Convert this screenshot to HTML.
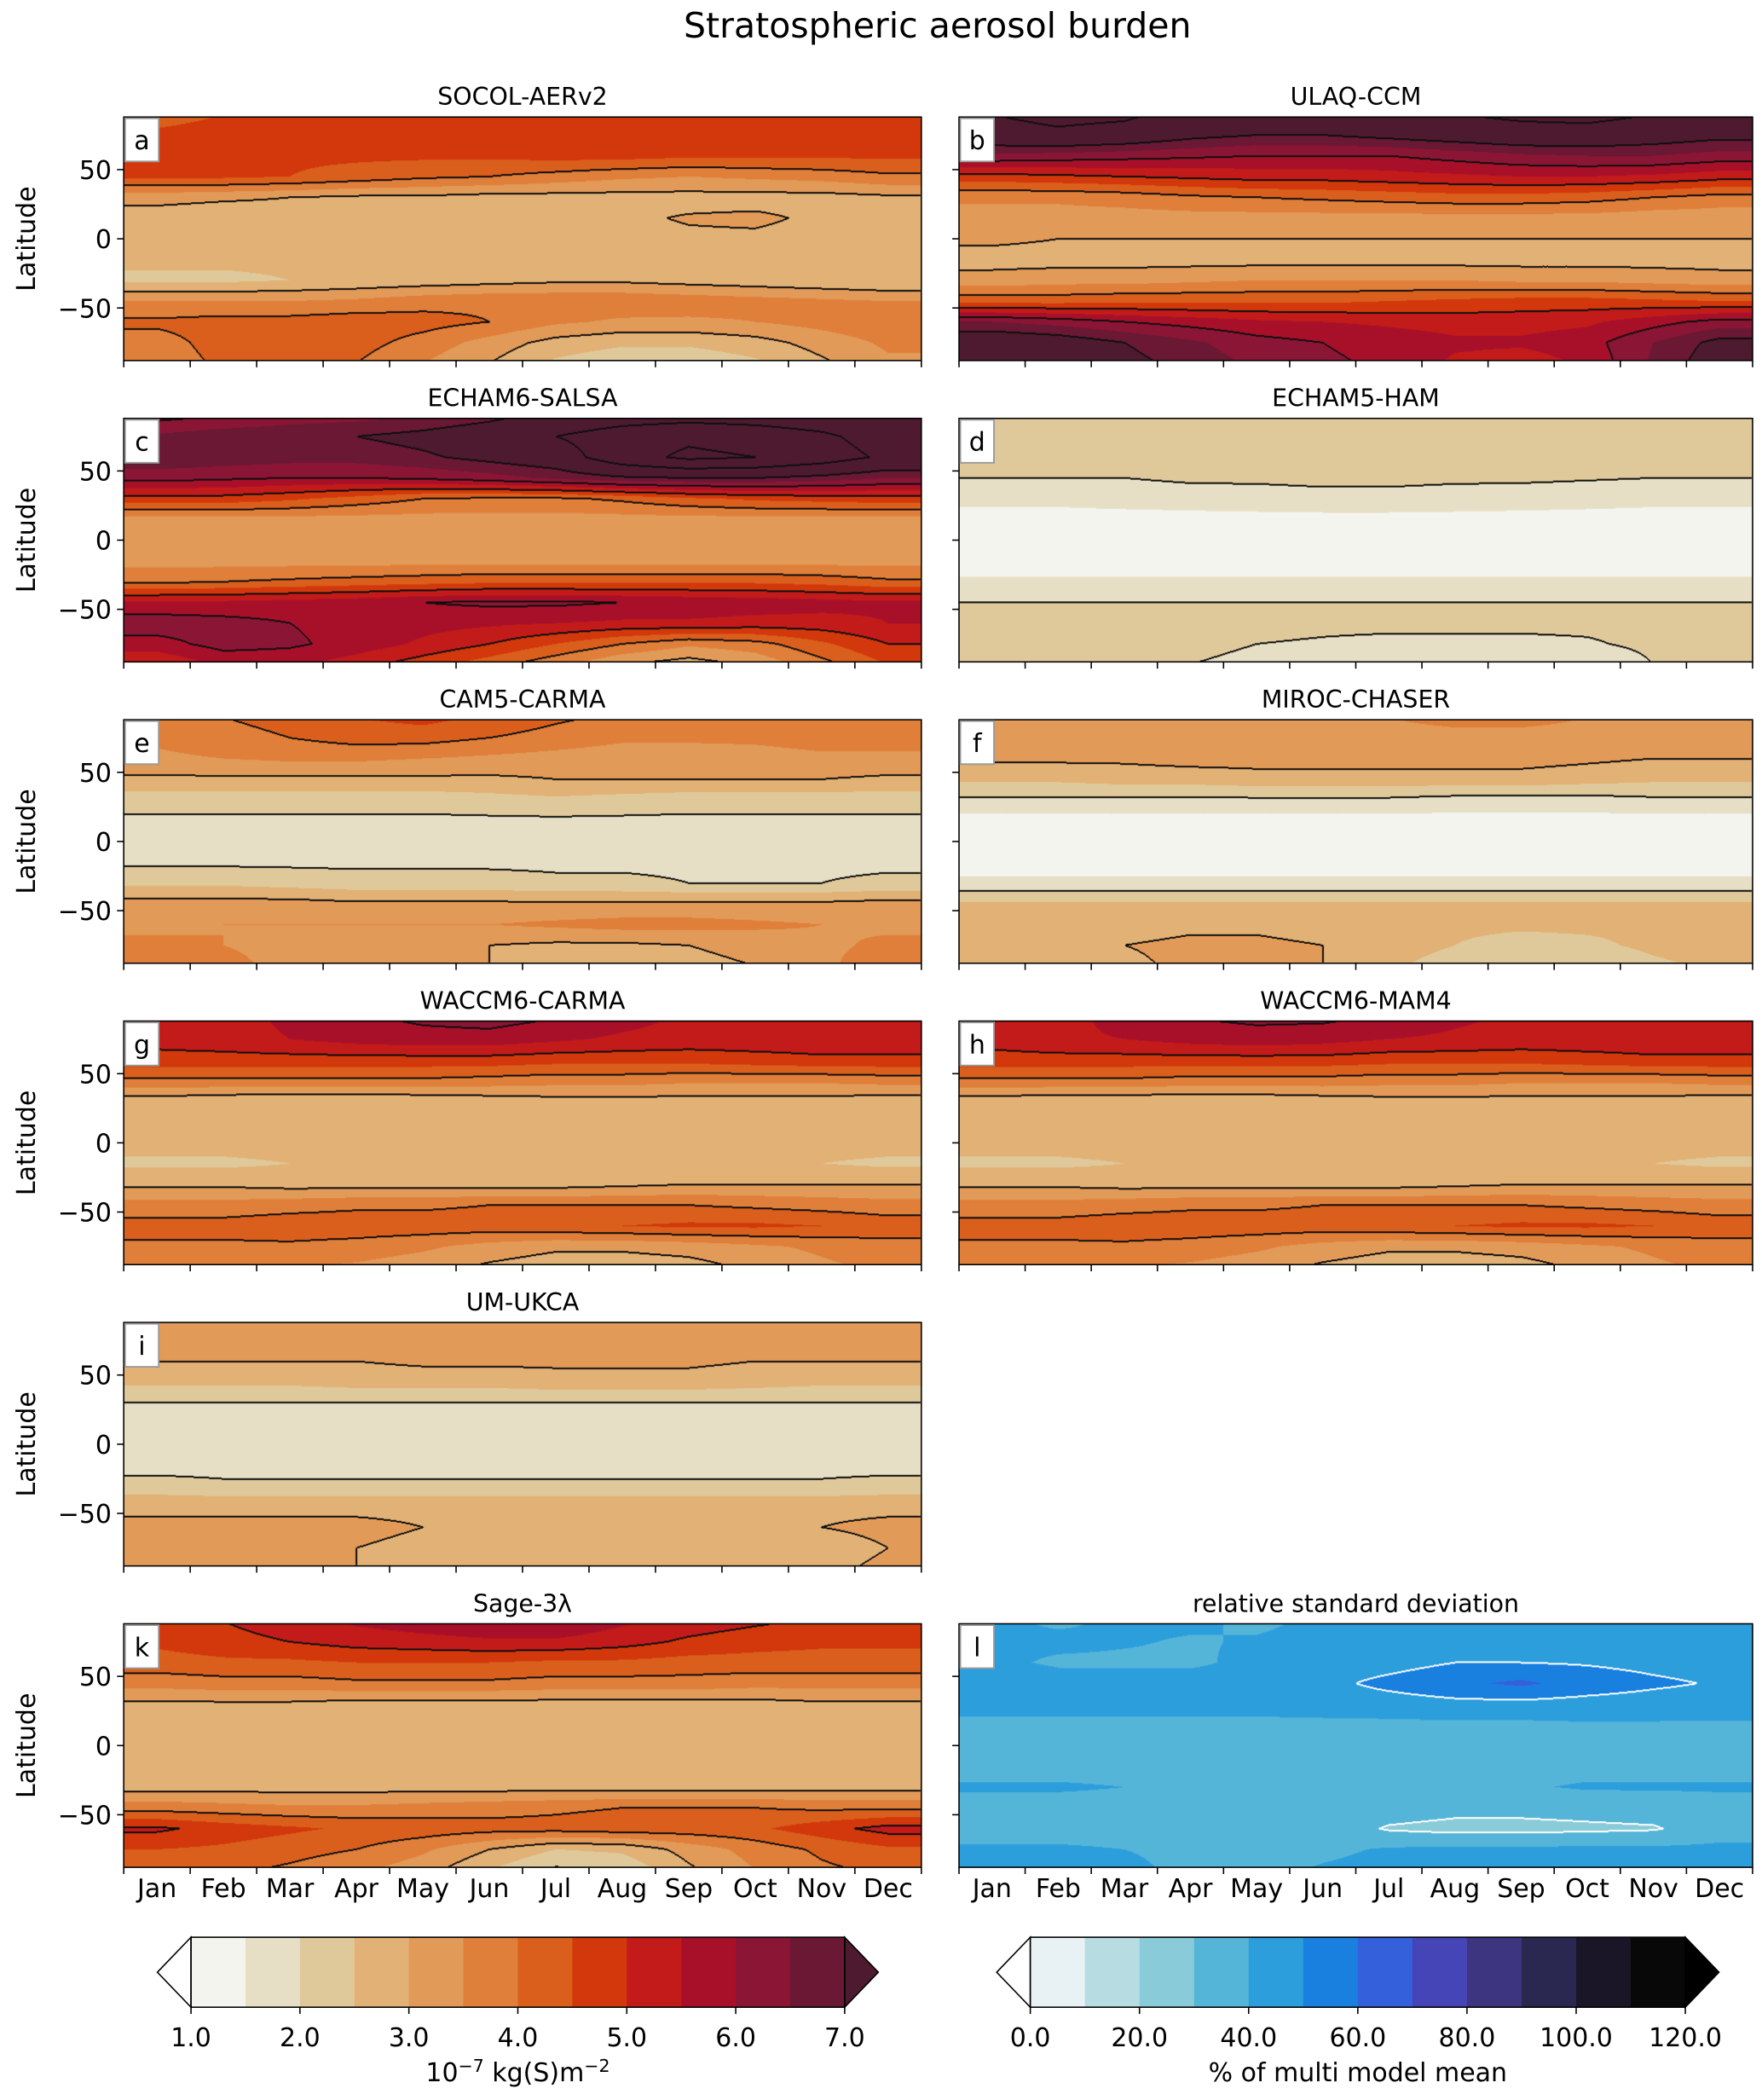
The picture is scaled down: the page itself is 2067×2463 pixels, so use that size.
<!DOCTYPE html>
<html><head><meta charset="utf-8">
<style>
html,body{margin:0;padding:0;background:#fff;width:2067px;height:2463px;overflow:hidden}
#wrap{position:absolute;left:0;top:0;width:1310px;height:1561px;transform-origin:0 0;font-family:"DejaVu Sans","Liberation Sans",sans-serif}
canvas{position:absolute;image-rendering:auto}
svg{position:absolute;left:0;top:0}
</style></head>
<body>
<div id="wrap">
<svg id="ov" width="1310" height="1561" viewBox="0 0 1310 1561">
<text x="697" y="28" font-size="26" text-anchor="middle">Stratospheric aerosol burden</text>
</svg>
</div>
<script>
const S = 2067/1310;
document.getElementById('wrap').style.transform = 'scale(' + S + ')';

// ---- data: rows are latitudes (90 -> -90 every 15 deg), columns are months Jan..Dec ----
const months = ['Jan','Feb','Mar','Apr','May','Jun','Jul','Aug','Sep','Oct','Nov','Dec'];
const lats = [90,75,60,45,30,15,0,-15,-30,-45,-60,-75,-90];
const latTicks = [50,0,-50];
const burdenTicks = ['1.0','2.0','3.0','4.0','5.0','6.0','7.0'];
const rsdTicks = ['0.0','20.0','40.0','60.0','80.0','100.0','120.0'];

const socol = [
[4.3,4.5,4.7,4.7,4.7,4.7,4.8,4.9,4.8,4.7,4.7,4.7],
[4.6,4.7,4.7,4.8,4.8,4.8,4.8,4.8,4.7,4.7,4.6,4.6],
[4.6,4.6,4.6,4.6,4.6,4.6,4.7,4.7,4.6,4.6,4.6,4.6],
[4.6,4.6,4.5,4.3,4.1,4.0,3.8,3.6,3.5,3.6,3.7,3.9],
[3.2,3.1,3.0,2.9,2.9,2.8,2.8,2.8,2.8,2.8,2.8,2.9],
[2.7,2.6,2.7,2.8,2.8,2.8,2.8,2.9,3.05,3.1,2.9,2.8],
[2.7,2.7,2.7,2.7,2.8,2.8,2.8,2.8,2.9,2.9,2.8,2.7],
[2.6,2.6,2.6,2.7,2.7,2.8,2.7,2.7,2.7,2.7,2.6,2.6],
[2.4,2.4,2.5,2.6,2.7,2.8,2.9,2.9,2.8,2.7,2.6,2.5],
[3.5,3.5,3.5,3.6,3.8,3.9,3.9,3.9,3.8,3.7,3.6,3.5],
[4.1,4.2,4.2,4.3,4.2,4.0,3.6,3.4,3.4,3.5,3.7,3.9],
[3.8,4.2,4.2,4.2,3.8,3.3,2.8,2.6,2.6,2.8,3.2,3.6],
[3.7,4.1,4.1,4.0,3.5,3.0,2.4,2.1,2.1,2.4,2.9,3.4]];
const ulaq = [
[8,8.3,8.2,7.6,7.5,7.6,7.8,8,8.2,8.3,8,7.8],
[7.6,7.8,7.6,7.2,7,7,7.2,7.4,7.6,7.6,7.4,7.2],
[6.4,6.3,6.2,6.1,6.0,6.0,6.0,6.2,6.4,6.5,6.5,6.3],
[4.8,4.9,5,5.1,5.2,5.2,5.3,5.4,5.5,5.5,5.4,5.2],
[3.6,3.6,3.7,3.9,4.0,4.1,4.2,4.3,4.3,4.2,4.0,3.8],
[3.3,3.3,3.3,3.3,3.3,3.3,3.3,3.3,3.3,3.3,3.2,3.2],
[3.1,3.0,3.0,3.0,3.0,3.0,3.0,3.0,3.0,3.0,3.0,3.0],
[2.8,2.8,2.8,2.8,2.8,2.8,2.8,2.8,2.8,2.8,2.8,2.8],
[3.2,3.3,3.3,3.4,3.5,3.5,3.5,3.5,3.4,3.4,3.3,3.2],
[4.3,4.3,4.4,4.4,4.4,4.4,4.5,4.6,4.7,4.7,4.6,4.5],
[6.5,6.3,6,5.8,5.6,5.5,5.4,5.3,5.3,5.4,5.8,6.2],
[7.6,7.4,7,6.6,6.2,6,5.8,5.6,5.6,5.8,6.5,7.2],
[8,7.8,7.2,6.8,6.4,6.1,5.9,5.4,5.2,5.6,6.6,7.4]];
const salsa = [
[5.8,6,6.2,6.3,6.5,6.8,7.2,7.5,7.6,7.5,7.3,7],
[6.6,6.8,6.9,7,7.2,7.5,8,8.5,8.8,8.6,8.2,7.5],
[6.9,6.8,6.7,6.7,6.9,7.2,7.5,8.6,9.2,9,8.5,7.8],
[6.2,6.1,6.0,6.0,6.1,6.3,6.6,6.9,7,7,6.8,6.5],
[4.8,4.8,4.6,4.3,4.0,3.9,3.9,4.1,4.4,4.6,4.7,4.8],
[3.3,3.3,3.3,3.3,3.3,3.3,3.3,3.3,3.3,3.3,3.3,3.3],
[3.2,3.2,3.2,3.2,3.2,3.2,3.2,3.2,3.2,3.2,3.2,3.2],
[3.3,3.3,3.3,3.3,3.3,3.3,3.3,3.3,3.3,3.3,3.3,3.3],
[3.9,4,4.1,4.2,4.3,4.4,4.4,4.4,4.4,4.4,4.3,4.1],
[5.6,5.6,5.7,5.8,6,6.1,6.1,6.0,5.9,5.8,5.7,5.6],
[6.3,6.2,6.0,5.8,5.7,5.6,5.5,5.4,5.4,5.3,5.3,5.5],
[5.8,6.2,6.1,5.8,5.4,5.0,4.5,4.0,3.6,3.8,4.4,5.0],
[5.0,5.6,5.6,5.2,4.7,4.2,3.6,3.0,2.7,3.1,3.8,4.5]];
const ham = [
[2.3,2.3,2.3,2.3,2.3,2.4,2.4,2.4,2.3,2.3,2.3,2.3],
[2.3,2.3,2.3,2.3,2.3,2.3,2.3,2.3,2.3,2.3,2.3,2.3],
[2.2,2.2,2.2,2.2,2.3,2.3,2.3,2.3,2.3,2.2,2.2,2.2],
[2.0,2.0,2.0,2.1,2.1,2.15,2.15,2.1,2.1,2.05,2.0,2.0],
[1.6,1.6,1.65,1.7,1.75,1.8,1.8,1.75,1.7,1.65,1.6,1.6],
[1.35,1.35,1.35,1.35,1.35,1.35,1.35,1.35,1.35,1.35,1.35,1.35],
[1.3,1.3,1.3,1.3,1.3,1.3,1.3,1.3,1.3,1.3,1.3,1.3],
[1.35,1.35,1.35,1.35,1.35,1.35,1.35,1.35,1.35,1.35,1.35,1.35],
[1.55,1.55,1.55,1.55,1.55,1.55,1.55,1.55,1.55,1.55,1.55,1.55],
[2.0,2.0,2.0,2.0,2.0,2.0,2.0,2.0,2.0,2.0,2.0,2.0],
[2.2,2.2,2.2,2.2,2.15,2.1,2.1,2.1,2.1,2.1,2.15,2.2],
[2.2,2.2,2.2,2.1,2.0,1.95,1.9,1.9,1.9,1.95,2.1,2.2],
[2.2,2.2,2.1,2.0,1.9,1.8,1.6,1.5,1.5,1.6,2.0,2.2]];
const carma = [
[3.8,4.0,4.2,4.5,4.7,4.4,4.1,3.9,3.8,3.9,4.0,3.9],
[3.6,3.8,4.0,4.2,4.2,4.0,3.8,3.6,3.6,3.6,3.7,3.7],
[3.4,3.5,3.6,3.6,3.5,3.4,3.3,3.2,3.2,3.3,3.4,3.4],
[2.9,2.9,2.9,2.9,2.9,2.9,3.0,3.0,3.0,3.0,3.0,2.9],
[2.2,2.2,2.2,2.2,2.2,2.3,2.4,2.3,2.2,2.2,2.2,2.2],
[1.9,1.9,1.9,1.9,1.9,1.9,1.9,1.9,1.9,1.9,1.9,1.9],
[1.85,1.85,1.85,1.85,1.85,1.85,1.85,1.85,1.85,1.85,1.85,1.85],
[1.9,1.9,1.9,1.9,1.9,1.9,1.9,1.9,1.9,1.9,1.9,1.9],
[2.4,2.4,2.3,2.2,2.2,2.2,2.1,2.1,2.0,2.0,2.0,2.1],
[3.2,3.2,3.2,3.1,3.1,3.1,3.1,3.1,3.1,3.1,3.1,3.2],
[3.4,3.5,3.5,3.5,3.5,3.5,3.6,3.7,3.7,3.6,3.5,3.4],
[3.6,3.5,3.4,3.3,3.2,3.0,2.9,2.9,3.0,3.2,3.4,3.6],
[3.8,3.6,3.4,3.3,3.2,3.0,2.7,2.6,2.8,3.0,3.4,3.8]];
const miroc = [
[3.2,3.2,3.3,3.4,3.4,3.4,3.5,3.6,3.6,3.5,3.4,3.3],
[3.3,3.3,3.3,3.3,3.3,3.3,3.4,3.4,3.4,3.4,3.3,3.3],
[3.1,3.1,3.1,3.2,3.2,3.2,3.2,3.2,3.2,3.1,3.0,3.0],
[2.6,2.6,2.7,2.7,2.8,2.8,2.8,2.8,2.8,2.7,2.6,2.6],
[1.9,1.9,1.9,1.9,1.9,1.9,1.9,1.8,1.8,1.8,1.9,1.9],
[1.3,1.3,1.3,1.3,1.3,1.3,1.3,1.3,1.3,1.3,1.3,1.3],
[1.2,1.2,1.2,1.2,1.2,1.2,1.2,1.2,1.2,1.2,1.2,1.2],
[1.3,1.3,1.3,1.3,1.3,1.3,1.3,1.3,1.3,1.3,1.3,1.3],
[1.6,1.6,1.6,1.6,1.6,1.6,1.6,1.6,1.6,1.6,1.6,1.6],
[2.6,2.6,2.6,2.6,2.6,2.6,2.6,2.6,2.6,2.6,2.6,2.6],
[2.7,2.7,2.8,2.9,2.9,2.8,2.7,2.6,2.6,2.6,2.6,2.7],
[2.7,2.8,3.0,3.1,3.1,3.0,2.8,2.5,2.3,2.4,2.6,2.7],
[2.6,2.7,2.9,3.1,3.2,3.0,2.6,2.2,2.0,2.1,2.4,2.6]];
const waccmCarma = [
[5.0,5.3,5.6,5.9,6.1,6.2,6.0,5.7,5.4,5.3,5.3,5.2],
[5.2,5.3,5.5,5.7,5.8,5.8,5.6,5.4,5.3,5.3,5.3,5.3],
[4.8,4.8,4.8,4.8,4.8,4.8,4.7,4.7,4.7,4.8,4.9,4.9],
[3.9,3.9,3.9,3.9,3.9,3.8,3.7,3.7,3.6,3.6,3.6,3.7],
[2.7,2.6,2.5,2.5,2.6,2.7,2.8,2.8,2.8,2.8,2.8,2.7],
[2.6,2.6,2.6,2.6,2.6,2.6,2.6,2.7,2.7,2.7,2.6,2.6],
[2.7,2.7,2.7,2.7,2.7,2.7,2.7,2.7,2.7,2.7,2.7,2.7],
[2.4,2.4,2.5,2.5,2.6,2.6,2.6,2.6,2.6,2.6,2.5,2.4],
[2.9,2.9,2.8,2.8,2.8,2.8,2.8,2.9,3.0,3.0,3.0,3.0],
[3.7,3.7,3.8,3.9,3.9,4.0,4.0,4.0,4.0,3.9,3.8,3.7],
[4.2,4.2,4.3,4.3,4.3,4.3,4.4,4.5,4.6,4.6,4.5,4.3],
[3.9,3.9,3.9,3.8,3.6,3.3,3.1,3.1,3.2,3.4,3.6,3.8],
[3.6,3.6,3.5,3.4,3.2,2.9,2.7,2.7,2.8,3.1,3.4,3.6]];
const waccmMam = [
[5.0,5.3,5.7,6.0,6.1,6.1,5.9,5.6,5.4,5.3,5.3,5.2],
[5.2,5.4,5.5,5.7,5.8,5.7,5.5,5.4,5.3,5.3,5.3,5.3],
[4.8,4.8,4.8,4.8,4.8,4.8,4.7,4.7,4.7,4.8,4.9,4.9],
[3.9,3.9,3.9,3.8,3.8,3.8,3.7,3.7,3.6,3.6,3.6,3.7],
[2.7,2.6,2.6,2.6,2.6,2.7,2.8,2.8,2.8,2.8,2.8,2.7],
[2.6,2.6,2.6,2.6,2.6,2.6,2.6,2.7,2.7,2.7,2.6,2.6],
[2.7,2.7,2.7,2.7,2.7,2.7,2.7,2.7,2.7,2.7,2.7,2.7],
[2.4,2.4,2.5,2.5,2.6,2.6,2.6,2.6,2.6,2.6,2.5,2.4],
[2.9,2.9,2.8,2.8,2.8,2.8,2.8,2.9,3.0,3.0,3.0,3.0],
[3.7,3.7,3.8,3.9,3.9,4.0,4.0,4.0,4.0,3.9,3.8,3.7],
[4.2,4.2,4.3,4.3,4.3,4.3,4.4,4.5,4.6,4.6,4.5,4.3],
[3.9,3.9,3.9,3.8,3.6,3.3,3.1,3.1,3.2,3.4,3.6,3.8],
[3.6,3.6,3.5,3.4,3.2,2.9,2.7,2.7,2.8,3.1,3.4,3.6]];
const ukca = [
[3.2,3.2,3.3,3.4,3.5,3.5,3.5,3.4,3.4,3.3,3.3,3.3],
[3.2,3.2,3.2,3.3,3.3,3.3,3.3,3.3,3.3,3.2,3.2,3.2],
[3.0,3.0,3.0,3.0,3.1,3.1,3.1,3.1,3.1,3.0,3.0,3.0],
[2.6,2.6,2.6,2.7,2.7,2.7,2.8,2.8,2.8,2.7,2.6,2.6],
[2.0,2.0,2.0,2.0,2.0,2.0,2.0,2.0,2.0,2.0,2.0,2.0],
[1.8,1.8,1.8,1.8,1.8,1.8,1.8,1.8,1.8,1.8,1.8,1.8],
[1.8,1.8,1.8,1.8,1.8,1.8,1.8,1.8,1.8,1.8,1.8,1.8],
[1.8,1.8,1.8,1.8,1.8,1.8,1.8,1.8,1.8,1.8,1.8,1.8],
[2.2,2.1,2.1,2.1,2.1,2.1,2.1,2.1,2.1,2.1,2.1,2.2],
[2.9,2.9,2.9,2.9,2.9,2.9,2.9,2.9,2.9,2.9,2.9,2.9],
[3.1,3.1,3.1,3.1,3.0,2.9,2.9,2.9,2.9,2.9,3.0,3.1],
[3.0,3.0,3.0,3.0,2.9,2.7,2.6,2.6,2.6,2.6,2.8,3.0],
[3.0,3.0,3.0,3.0,2.9,2.7,2.6,2.6,2.6,2.7,2.9,3.1]];
const sage = [
[4.8,5.0,5.3,5.6,5.8,6.0,6.0,5.6,5.3,5.1,4.9,4.8],
[4.6,4.8,5.0,5.2,5.3,5.4,5.4,5.2,4.9,4.7,4.6,4.6],
[4.3,4.4,4.4,4.5,4.5,4.5,4.4,4.4,4.3,4.3,4.3,4.3],
[3.7,3.8,3.8,3.9,3.9,3.9,3.8,3.8,3.8,3.7,3.7,3.7],
[2.9,2.9,2.9,2.8,2.8,2.8,2.8,2.8,2.8,2.8,2.9,2.9],
[2.6,2.6,2.6,2.6,2.6,2.6,2.6,2.6,2.6,2.6,2.6,2.6],
[2.5,2.5,2.6,2.5,2.5,2.6,2.6,2.5,2.6,2.6,2.5,2.5],
[2.5,2.5,2.5,2.6,2.6,2.6,2.6,2.6,2.6,2.6,2.6,2.6],
[2.8,2.8,2.8,2.8,2.8,2.8,2.8,2.8,2.8,2.8,2.8,2.8],
[3.8,3.7,3.6,3.6,3.7,3.8,3.9,4.0,4.0,4.0,3.9,3.9],
[5.1,4.8,4.6,4.4,4.3,4.2,4.2,4.3,4.3,4.4,4.8,5.2],
[4.5,4.4,4.2,4.0,3.6,3.0,2.5,2.6,3.2,3.7,4.1,4.4],
[4.2,4.1,3.9,3.6,3.2,2.5,1.9,2.1,2.9,3.5,3.9,4.1]];
const rsd = [
[42,38,42,42,38,42,42,42,42,42,42,42],
[43,43,41,39,41,43,43,43,43,43,43,43],
[43,38,38,38,43,44,46,50,50,49,47,45],
[50,46,45,45,45,47,53,58,62,56,52,49],
[43,43,43,43,43,44,45,47,47,46,45,44],
[38,38,38,38,38,38,38,38,38,39,39,39],
[37,37,37,37,37,37,37,37,37,37,37,37],
[37,37,37,37,37,37,37,37,37,37,37,37],
[41,41,40,40,40,40,40,40,39,41,41,41],
[37,37,37,37,37,37,35,33,33,34,35,37],
[37,37,37,37,37,36,29,27,27,28,29,36],
[41,41,40,38,37,38,41,42,42,42,42,42],
[43,43,42,38,37,41,43,43,43,43,43,43]];

// ---- styles ----
const orangeCols = ['#f4f4ee','#e6dfc6','#dfc99a','#e2b175','#e29a58','#df7f3a','#da5f1c','#d2380b','#c21b1a','#a8102a','#8b1534','#6a1834'];
const orangeUnder = '#ffffff', orangeOver = '#4e1a2f';
const blueCols = ['#e8f2f4','#b7dde3','#89cbd8','#55b5d8','#2d9edc','#1a80e0','#3560dc','#4645b8','#3d3580','#2a2850','#1a1628','#080808'];
const blueUnder = '#ffffff', blueOver = '#000000';

const SVGNS = 'http://www.w3.org/2000/svg';
const ov = document.getElementById('ov');
const wrap = document.getElementById('wrap');
function mk(tag, attrs, parent){ const e=document.createElementNS(SVGNS,tag); for(const k in attrs) e.setAttribute(k,attrs[k]); (parent||ov).appendChild(e); return e; }

const LAT_MAX = 88;
function sample(d, m, lat){
  m = Math.max(0, Math.min(11, m));
  let r = (90 - lat)/15; r = Math.max(0, Math.min(12, r));
  const m0=Math.floor(m), m1=Math.min(11,m0+1), fm=m-m0;
  const r0=Math.floor(r), r1=Math.min(12,r0+1), fr=r-r0;
  const a=d[r0][m0]*(1-fm)+d[r0][m1]*fm;
  const b=d[r1][m0]*(1-fm)+d[r1][m1]*fm;
  return a*(1-fr)+b*fr;
}
function hex(c){ return [parseInt(c.substr(1,2),16),parseInt(c.substr(3,2),16),parseInt(c.substr(5,2),16)]; }

function drawField(cv, d, kind){
  const W=cv.width, H=cv.height, ctx=cv.getContext('2d');
  const img=ctx.createImageData(W,H);
  const lv=new Int16Array(W*H);
  const cols=(kind==='rsd'?blueCols:orangeCols).map(hex);
  const under=hex(kind==='rsd'?blueUnder:orangeUnder), over=hex(kind==='rsd'?blueOver:orangeOver);
  for(let j=0;j<H;j++){
    const lat = LAT_MAX - (j+0.5)/H*2*LAT_MAX;
    for(let i=0;i<W;i++){
      const m=(i+0.5)/W*12-0.5;
      const val=sample(d,m,lat);
      const p=j*W+i;
      let c;
      if(kind==='rsd'){
        const k=Math.floor(val/10); c = val<0?under:(k>11?over:cols[k]);
        lv[p] = val<30?0:(val<50?1:2);
      } else {
        const k=Math.floor((val-1)/0.5); c = val<1?under:(k>11?over:cols[k]);
        lv[p] = Math.floor(val);
      }
      img.data[p*4]=c[0]; img.data[p*4+1]=c[1]; img.data[p*4+2]=c[2]; img.data[p*4+3]=255;
    }
  }
  const lc = kind==='rsd'?[255,255,255]:[15,15,15];
  function setp(q){ img.data[q*4]=lc[0]; img.data[q*4+1]=lc[1]; img.data[q*4+2]=lc[2]; }
  for(let j=0;j<H-1;j++) for(let i=0;i<W-1;i++){
    const p=j*W+i;
    if(lv[p]!==lv[p+1] || lv[p]!==lv[p+W]){
      if(kind!=='rsd' && Math.max(lv[p],lv[p+1],lv[p+W])<2) continue;
      setp(p);
      if(lv[p]!==lv[p+W]) setp(p+W);
      if(lv[p]!==lv[p+1]) setp(p+1);
    }
  }
  ctx.putImageData(img,0,0);
}

const panels = [
 {letter:'a', title:'SOCOL-AERv2', data:socol, col:0, row:0},
 {letter:'b', title:'ULAQ-CCM', data:ulaq, col:1, row:0},
 {letter:'c', title:'ECHAM6-SALSA', data:salsa, col:0, row:1},
 {letter:'d', title:'ECHAM5-HAM', data:ham, col:1, row:1},
 {letter:'e', title:'CAM5-CARMA', data:carma, col:0, row:2},
 {letter:'f', title:'MIROC-CHASER', data:miroc, col:1, row:2},
 {letter:'g', title:'WACCM6-CARMA', data:waccmCarma, col:0, row:3},
 {letter:'h', title:'WACCM6-MAM4', data:waccmMam, col:1, row:3},
 {letter:'i', title:'UM-UKCA', data:ukca, col:0, row:4},
 {letter:'k', title:'Sage-3λ', data:sage, col:0, row:5},
 {letter:'l', title:'relative standard deviation', data:rsd, col:1, row:5, kind:'rsd'}
];
const colX=[92,713], colW=[593,590], rowY=[87,311,535,759,983,1207], PH=181;

panels.forEach(p=>{
  const x0=colX[p.col], w=colW[p.col], y0=rowY[p.row];
  const cv=document.createElement('canvas');
  
  
  cv.width=Math.round(w*S); cv.height=Math.round(PH*S);
  cv.style.left=x0+'px'; cv.style.top=y0+'px'; cv.style.width=w+'px'; cv.style.height=PH+'px';
  wrap.insertBefore(cv, ov);
  drawField(cv, p.data, p.kind||'burden');

  const g=mk('g',{});
  
  
  const fr=mk('rect',{x:x0,y:y0,width:w,height:PH,fill:'none',stroke:'#000','stroke-width':1},g);
  
  
  const tt=mk('text',{x:x0+w/2,y:y0-9,'font-size':18,'text-anchor':'middle'},g);
  tt.textContent=p.title;
  
  
  const lb=mk('rect',{x:x0+1,y:y0+1,width:25,height:32,fill:'#fff',stroke:'#999','stroke-width':1.2},g);
  
  
  const lt=mk('text',{x:x0+13.5,y:y0+24,'font-size':19,'text-anchor':'middle'},g);
  lt.textContent=p.letter;
  
  
  latTicks.forEach(t=>{
    const yy=y0+PH/2 - t/LAT_MAX*PH/2;
    const tk=mk('line',{x1:x0-5,x2:x0,y1:yy,y2:yy,stroke:'#000','stroke-width':1},g);
    
    
    if(p.col===0){
      const tl=mk('text',{x:x0-9,y:yy+7,'font-size':19,'text-anchor':'end'},g);
      tl.textContent=(t<0?'\u2212'+(-t):String(t));
      
      
    }
  });
  if(p.col===0){
    const yl=mk('text',{x:0,y:0,'font-size':19,'text-anchor':'middle',transform:'translate(26,'+(y0+PH/2)+') rotate(-90)'},g);
    yl.textContent='Latitude';
    
    
  }
  for(let i=0;i<=12;i++){
    const xx=x0+i*w/12;
    const tk=mk('line',{x1:xx,x2:xx,y1:y0+PH,y2:y0+PH+5,stroke:'#000','stroke-width':1},g);
    
    
  }
  if(p.row===5){
    months.forEach((mn,i)=>{
      const tl=mk('text',{x:x0+(i+0.5)*w/12,y:y0+PH+22,'font-size':19,'text-anchor':'middle'},g);
      tl.textContent=mn;
      
      
    });
  }
});

function colorbar(x0,x1,cols,under,over,ticks,label,name){
  const g=mk('g',{});
  
  
  const y0=1440, h=52, n=cols.length, bw=(x1-x0)/n;
  cols.forEach((c,i)=>{
    const r=mk('rect',{x:x0+i*bw,y:y0,width:bw+0.5,height:h,fill:c},g);
    
    
  });
  const tu=mk('polygon',{points:(x0)+','+y0+' '+(x0-25)+','+(y0+h/2)+' '+x0+','+(y0+h),fill:under,stroke:'#000','stroke-width':1},g);
  
  
  const to=mk('polygon',{points:(x1)+','+y0+' '+(x1+25)+','+(y0+h/2)+' '+x1+','+(y0+h),fill:over,stroke:'#000','stroke-width':1},g);
  
  
  const fr=mk('rect',{x:x0,y:y0,width:x1-x0,height:h,fill:'none',stroke:'#000','stroke-width':1},g);
  
  
  ticks.forEach((t,i)=>{
    const xx=x0+i*(x1-x0)/(ticks.length-1);
    const tk=mk('line',{x1:xx,x2:xx,y1:y0+h,y2:y0+h+5,stroke:'#000'},g);
    
    
    const tl=mk('text',{x:xx,y:y0+h+29,'font-size':19,'text-anchor':'middle'},g);
    tl.textContent=t;
    
    
  });
  const lb=mk('text',{x:(x0+x1)/2,y:y0+h+55,'font-size':19,'text-anchor':'middle'},g);
  lb.innerHTML=label;
  
  
}
colorbar(142,628,orangeCols,orangeUnder,orangeOver,burdenTicks,'10<tspan dy="-7" font-size="13">\u22127</tspan><tspan dy="7"> kg(S)m</tspan><tspan dy="-7" font-size="13">\u22122</tspan>','burden-colorbar');
colorbar(766,1253,blueCols,blueUnder,blueOver,rsdTicks,'% of multi model mean','rsd-colorbar');
</script>
</body></html>
